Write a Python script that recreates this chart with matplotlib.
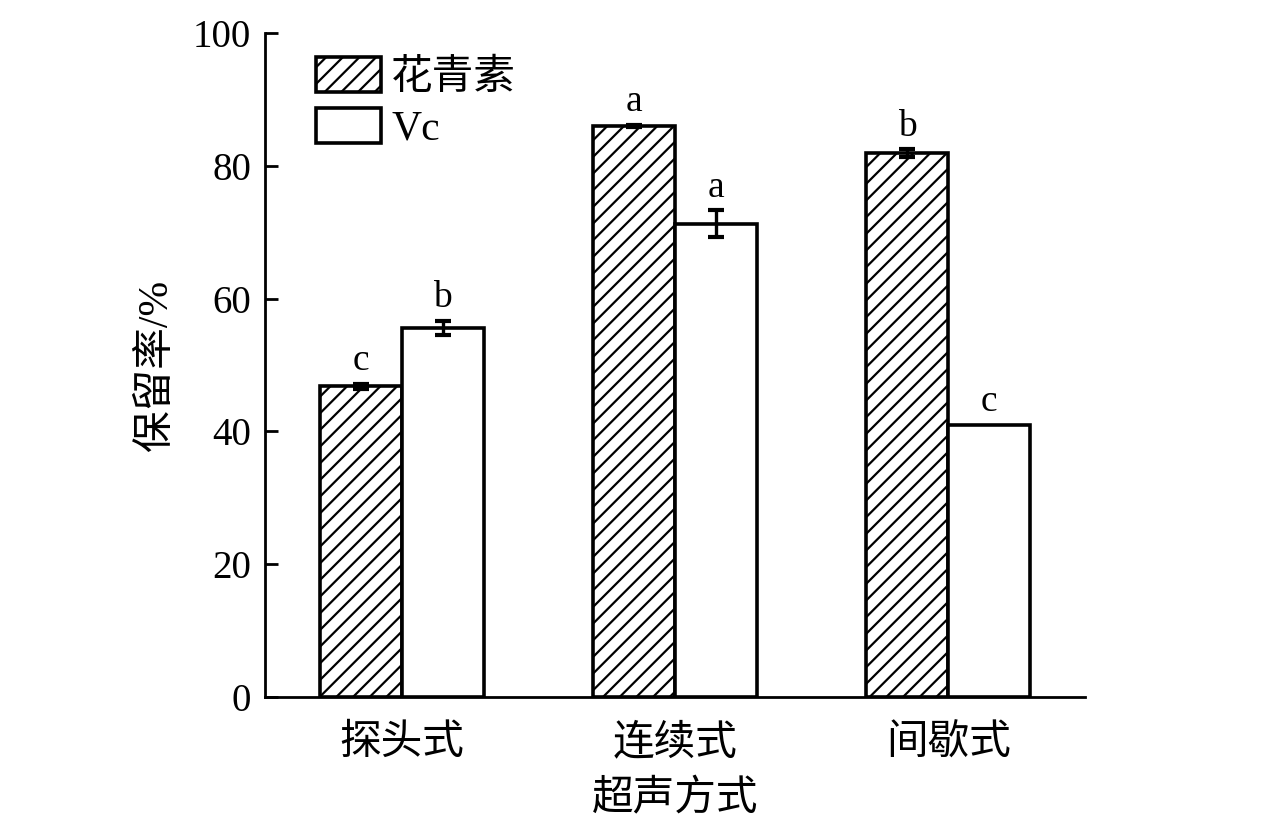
import numpy as np
import matplotlib
matplotlib.use('Agg')
import matplotlib.pyplot as plt

plt.rcParams['font.family'] = ['Liberation Serif', 'Noto Sans CJK SC', 'DejaVu Sans']
plt.rcParams['hatch.linewidth'] = 1.6
plt.rcParams['axes.unicode_minus'] = False

# datos
modos = ['探头式', '连续式', '间歇式']
antocianina = [46.8, 86.0, 81.9]
antocianina_err = [0.4, 0.2, 0.6]
vc = [55.6, 71.3, 41.0]
vc_err = [1.1, 2.0, 0.0]
letras_anto = ['c', 'a', 'b']
letras_vc = ['b', 'a', 'c']

fig = plt.figure(figsize=(12.76, 8.17), dpi=100)
ax = fig.add_axes([0.2077, 0.1469, 0.6426, 0.8127])

x = np.arange(len(modos))
w = 0.3

ax.bar(x - w/2, antocianina, w, color='white', edgecolor='black',
       linewidth=2.6, hatch='//', label='花青素', zorder=2)
ax.bar(x + w/2, vc, w, color='white', edgecolor='black',
       linewidth=2.6, label='Vc', zorder=2)

# barras de error (solo donde hay error)
for xi, v, e in zip(np.concatenate([x - w/2, x + w/2]), antocianina + vc,
                    antocianina_err + vc_err):
    if e > 0:
        ax.errorbar(xi, v, yerr=e, fmt='none', ecolor='black',
                    elinewidth=2.4, capsize=6, capthick=3, zorder=3)

# letras de significancia
for xi, v, e, t in zip(x - w/2, antocianina, antocianina_err, letras_anto):
    ax.text(xi, v + e + 0.8, t, ha='center', va='bottom', fontsize=27)
for xi, v, e, t in zip(x + w/2, vc, vc_err, letras_vc):
    ax.text(xi, v + e + 0.8, t, ha='center', va='bottom', fontsize=27)

ax.set_xlim(-0.5, 2.5)
ax.set_ylim(0, 100)
ax.set_yticks([0, 20, 40, 60, 80, 100])
ax.set_xticks(x)
ax.set_xticklabels(modos, fontsize=30)
ax.tick_params(axis='y', direction='in', length=9, width=2, labelsize=28, pad=10)
ax.tick_params(axis='x', length=0, pad=20)
ax.spines['top'].set_visible(False)
ax.spines['right'].set_visible(False)
ax.spines['left'].set_linewidth(2)
ax.spines['bottom'].set_linewidth(2)

ax.set_xlabel('超声方式', fontsize=30, labelpad=12)
ax.set_ylabel('保留率/%', fontsize=30, labelpad=12)

ax.legend(loc='upper left', bbox_to_anchor=(0.037, 0.995), frameon=False,
          fontsize=30, handlelength=1.55, handleheight=0.9,
          handletextpad=0.25, labelspacing=0.25, borderaxespad=0.1)

plt.savefig('out.png', dpi=100)
